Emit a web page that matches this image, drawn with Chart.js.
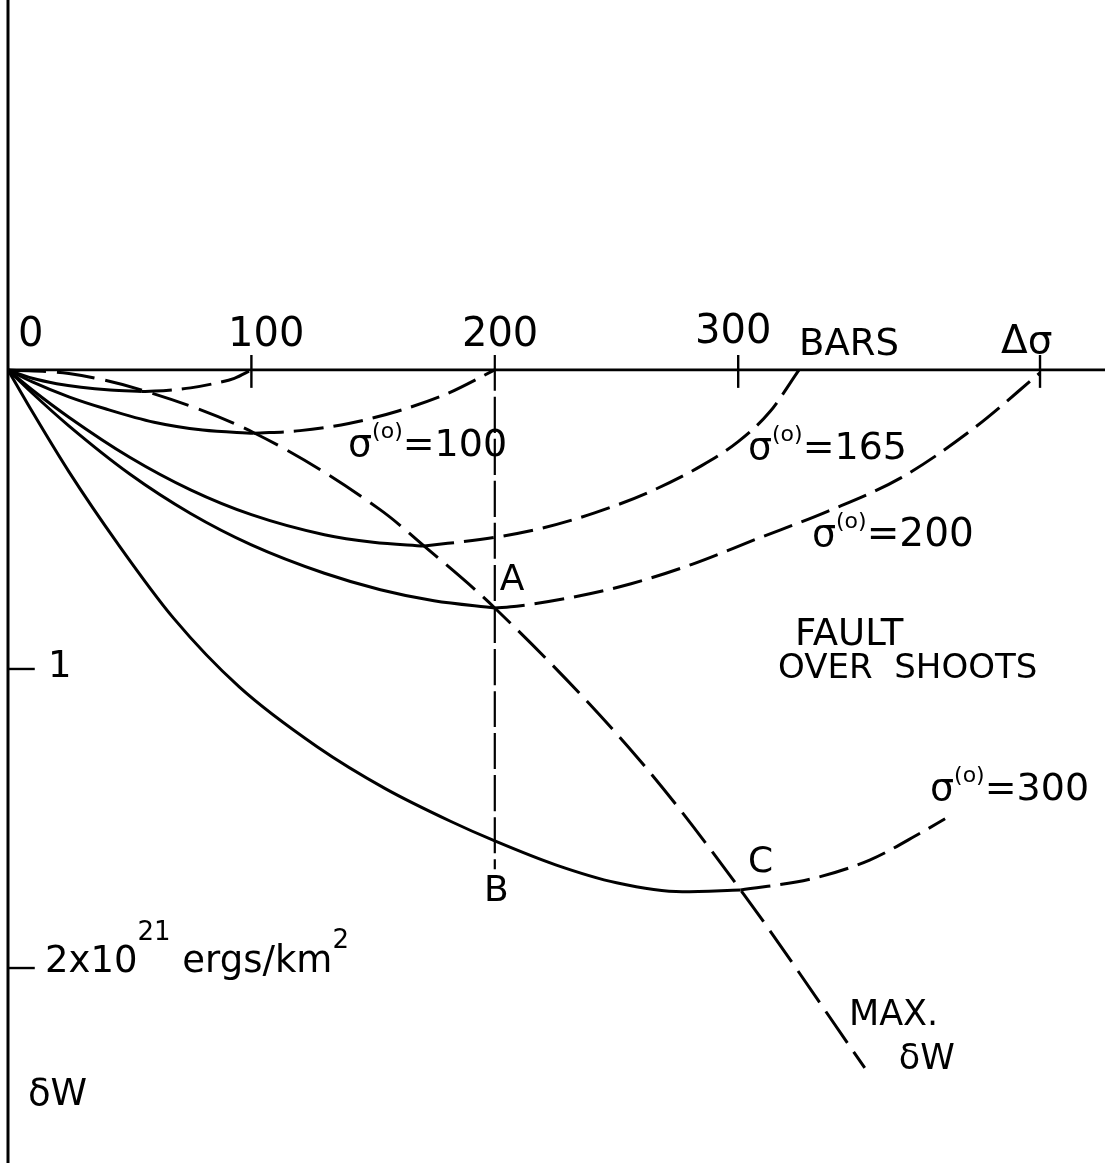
<!DOCTYPE html>
<html>
<head>
<meta charset="utf-8">
<script src="https://cdn.jsdelivr.net/npm/chart.js@4.4.1/dist/chart.umd.min.js"></script>
<style>
  html, body { margin: 0; padding: 0; background: #fff; }
  #wrap { width: 1105px; height: 1163px; }
</style>
</head>
<body>
<div id="wrap"><canvas id="energyChart" width="1105" height="1163"></canvas></div>
<script>
// x: stress drop Δσ in bars, y: δW in 10^21 ergs/km^2 (down = negative)
const xMax = 450.7;
const yMin = -2.652;
const yMax = 1.237;
const xTickValues = [100, 300, 424];
const yTickValues = [-1, -2];

// σ(0)=50
const s50SolidX = [0, 10, 20, 30, 42, 55];
const s50SolidY = [0, -0.028, -0.046, -0.058, -0.067, -0.072];
const s50DashX = [55, 65, 75, 85, 93, 100];
const s50DashY = [-0.072, -0.069, -0.060, -0.045, -0.028, 0];

// σ(0)=100
const s100SolidX = [0, 10, 25, 40, 60, 80, 101];
const s100SolidY = [0, -0.040, -0.090, -0.130, -0.175, -0.201, -0.212];
const s100DashX = [101, 120, 140, 160, 180, 200];
const s100DashY = [-0.212, -0.203, -0.179, -0.138, -0.081, 0];

// σ(0)=165
const s165SolidX = [0, 10, 25, 50, 75, 100, 130, 150, 171];
const s165SolidY = [0, -0.067, -0.158, -0.292, -0.401, -0.484, -0.551, -0.576, -0.589];
const s165DashX = [171, 200, 219, 241, 263, 285, 300, 313, 325];
const s165DashY = [-0.589, -0.560, -0.530, -0.478, -0.410, -0.320, -0.240, -0.140, 0];

// σ(0)=200
const s200SolidX = [0, 10, 25, 50, 75, 100, 130, 153, 175, 200];
const s200SolidY = [0, -0.078, -0.187, -0.348, -0.480, -0.585, -0.680, -0.735, -0.772, -0.796];
const s200DashX = [200, 209, 232, 256, 281, 307, 337, 367, 396, 424];
const s200DashY = [-0.796, -0.790, -0.760, -0.715, -0.650, -0.567, -0.472, -0.360, -0.200, -0.010];

// σ(0)=300
const s300SolidX = [0, 10, 25, 45, 68, 95, 127, 155, 182, 200, 225, 250, 277, 301];
const s300SolidY = [0, -0.14, -0.34, -0.58, -0.83, -1.06, -1.26, -1.40, -1.51, -1.575, -1.655, -1.715, -1.745, -1.739];
const s300DashX = [301, 330, 354, 375, 385];
const s300DashY = [-1.739, -1.702, -1.639, -1.548, -1.501];

// MAX. δW
const maxX = [0, 25, 54, 101, 153, 171, 200, 259, 301, 352];
const maxY = [0, -0.012, -0.065, -0.210, -0.468, -0.589, -0.796, -1.30, -1.739, -2.334];

// line through A and B at Δσ = 200
const abX = [200, 200];
const abY = [0.05, -1.67];

const labelFont = '"DejaVu Sans", sans-serif';

function curve(xs, ys, dash, width) {
  return {
    data: xs.map((x, i) => ({ x: x, y: ys[i] })),
    borderColor: '#000',
    borderWidth: width || 3,
    borderDash: dash || [],
    borderCapStyle: 'butt',
    pointRadius: 0,
    fill: false,
    cubicInterpolationMode: 'monotone'
  };
}

const datasets = [
  curve(s50SolidX, s50SolidY),
  curve(s50DashX, s50DashY, [30, 10]),
  curve(s100SolidX, s100SolidY),
  curve(s100DashX, s100DashY, [30, 10]),
  curve(s165SolidX, s165SolidY),
  curve(s165DashX, s165DashY, [30, 10]),
  curve(s200SolidX, s200SolidY),
  curve(s200DashX, s200DashY, [30, 10]),
  curve(s300SolidX, s300SolidY),
  curve(s300DashX, s300DashY, [30, 10]),
  curve(maxX, maxY, [38, 11]),
  curve(abX, abY, [36, 6], 2.2)
];

// text runs: [text, size, raise]
const labels = [
  { x: 4.1, y: 0.080, runs: [['0', 40]] },
  { x: 90.4, y: 0.080, runs: [['100', 40]] },
  { x: 186.5, y: 0.080, runs: [['200', 40]] },
  { x: 282.3, y: 0.090, runs: [['300', 40]] },
  { x: 325, y: 0.050, runs: [['BARS', 37]] },
  { x: 408, y: 0.057, runs: [['Δσ', 39]] },
  { x: 139.7, y: -0.288, runs: [['σ', 38], ['(o)', 22, 18], ['=100', 38]] },
  { x: 304, y: -0.298, runs: [['σ', 38], ['(o)', 22, 18], ['=165', 38]] },
  { x: 330.3, y: -0.589, runs: [['σ', 38], ['(o)', 22, 18], ['=200', 39]] },
  { x: 378.8, y: -1.438, runs: [['σ', 38], ['(o)', 22, 18], ['=300', 38]] },
  { x: 202, y: -0.736, runs: [['A', 36]] },
  { x: 195.6, y: -1.776, runs: [['B', 36]] },
  { x: 304, y: -1.679, runs: [['C', 36]] },
  { x: 323.3, y: -0.920, runs: [['FAULT', 37]] },
  { x: 316.4, y: -1.030, runs: [['OVER  SHOOTS', 34]] },
  { x: 345.5, y: -2.191, runs: [['MAX.', 35]] },
  { x: 366, y: -2.338, runs: [['δW', 35]] },
  { x: 16.4, y: -1.027, runs: [['1', 37]] },
  { x: 15.2, y: -2.013, runs: [['2x10', 37], ['21', 26, 32], [' ergs/km', 37], ['2', 26, 24]] },
  { x: 8.2, y: -2.458, runs: [['δW', 37]] }
];

const axesPlugin = {
  id: 'axesPlugin',
  beforeDatasetsDraw(chart) {
    const ctx = chart.ctx;
    const xs = chart.scales.x;
    const ys = chart.scales.y;
    ctx.save();
    ctx.strokeStyle = '#000';
    ctx.lineCap = 'butt';
    // δW axis
    ctx.lineWidth = 3;
    ctx.beginPath();
    ctx.moveTo(xs.getPixelForValue(0), ys.getPixelForValue(yMax));
    ctx.lineTo(xs.getPixelForValue(0), ys.getPixelForValue(yMin));
    ctx.stroke();
    // Δσ axis
    ctx.lineWidth = 2.8;
    ctx.beginPath();
    ctx.moveTo(xs.getPixelForValue(0), ys.getPixelForValue(0));
    ctx.lineTo(xs.getPixelForValue(xMax), ys.getPixelForValue(0));
    ctx.stroke();
    // tick marks
    ctx.lineWidth = 2.4;
    xTickValues.forEach(v => {
      ctx.beginPath();
      ctx.moveTo(xs.getPixelForValue(v), ys.getPixelForValue(0.05));
      ctx.lineTo(xs.getPixelForValue(v), ys.getPixelForValue(-0.06));
      ctx.stroke();
    });
    yTickValues.forEach(v => {
      ctx.beginPath();
      ctx.moveTo(xs.getPixelForValue(0), ys.getPixelForValue(v));
      ctx.lineTo(xs.getPixelForValue(11), ys.getPixelForValue(v));
      ctx.stroke();
    });
    ctx.restore();
  }
};

const labelsPlugin = {
  id: 'labelsPlugin',
  afterDatasetsDraw(chart) {
    const ctx = chart.ctx;
    const xs = chart.scales.x;
    const ys = chart.scales.y;
    ctx.save();
    ctx.fillStyle = '#000';
    ctx.textBaseline = 'alphabetic';
    ctx.textAlign = 'left';
    labels.forEach(l => {
      let cx = xs.getPixelForValue(l.x);
      const by = ys.getPixelForValue(l.y);
      l.runs.forEach(r => {
        ctx.font = r[1] + 'px ' + labelFont;
        ctx.fillText(r[0], cx, by - (r[2] || 0));
        cx += ctx.measureText(r[0]).width;
      });
    });
    ctx.restore();
  }
};

const chart = new Chart(document.getElementById('energyChart'), {
  type: 'line',
  data: { datasets: datasets },
  options: {
    responsive: false,
    animation: false,
    devicePixelRatio: 1,
    layout: { padding: { left: 8, right: 0, top: 0, bottom: 0 } },
    plugins: {
      legend: { display: false },
      tooltip: { enabled: false }
    },
    scales: {
      x: { type: 'linear', min: 0, max: xMax, display: false },
      y: { type: 'linear', min: yMin, max: yMax, display: false }
    }
  },
  plugins: [axesPlugin, labelsPlugin]
});
</script>
</body>
</html>
